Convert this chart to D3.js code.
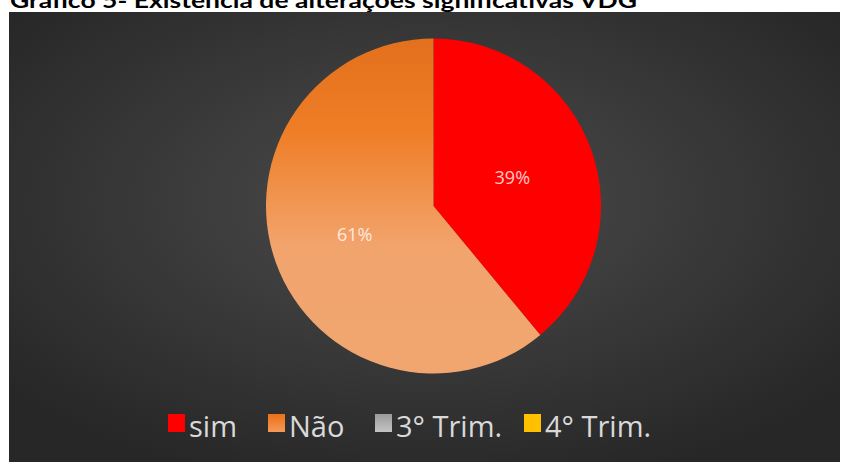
<!DOCTYPE html>
<html><head><meta charset="utf-8">
<script src="https://cdn.jsdelivr.net/npm/d3@7"></script>
<style>html,body{margin:0;padding:0;background:#fff;}svg{display:block;}</style>
</head><body>
<svg id="chart" width="846" height="462"></svg>
<script>
const title = "Gráfico 5- Existência de alterações significativas VDG";
const categories = ["sim", "Não", "3° Trim.", "4° Trim."];
const values = [39, 61, 0, 0];
const labels = ["39%", "61%", "", ""];

const svg = d3.select("#chart");
const W = 846, H = 462;
const defs = svg.append("defs");

const bg = defs.append("radialGradient").attr("id","bg")
  .attr("cx","50%").attr("cy","42%").attr("r","65%");
bg.append("stop").attr("offset","0%").attr("stop-color","#4c4c4c");
bg.append("stop").attr("offset","100%").attr("stop-color","#272727");

const cx = 433.5, cy = 206, R = 167.5;
const og = defs.append("linearGradient").attr("id","orange")
  .attr("gradientUnits","userSpaceOnUse")
  .attr("x1", 0).attr("y1", -R).attr("x2", 0).attr("y2", R);
og.append("stop").attr("offset","0%").attr("stop-color","#E3701C");
og.append("stop").attr("offset","28%").attr("stop-color","#EF7E27");
og.append("stop").attr("offset","62%").attr("stop-color","#F2A46D");
og.append("stop").attr("offset","100%").attr("stop-color","#F1A670");

const lg = defs.append("linearGradient").attr("id","legOrange").attr("x1",0).attr("y1",0).attr("x2",0).attr("y2",1);
lg.append("stop").attr("offset","0%").attr("stop-color","#EE6F16");
lg.append("stop").attr("offset","100%").attr("stop-color","#F49A5A");
const gg = defs.append("linearGradient").attr("id","legGray").attr("x1",0).attr("y1",0).attr("x2",0).attr("y2",1);
gg.append("stop").attr("offset","0%").attr("stop-color","#9A9A9A");
gg.append("stop").attr("offset","100%").attr("stop-color","#C4C4C4");

// title (cut off at the top, as in the reference)
svg.append("text").attr("x", 10).attr("y", 8)
  .attr("font-family","Lato, 'Open Sans', sans-serif").attr("font-weight","bold")
  .attr("font-size", 20).attr("fill","#000")
  .attr("textLength", 627).attr("lengthAdjust","spacingAndGlyphs")
  .text(title);

// background
svg.append("rect").attr("x", 9).attr("y", 12).attr("width", 831).attr("height", H - 12)
  .attr("fill","url(#bg)");

const sliceFills = ["#FF0000", "url(#orange)", "url(#legGray)", "#FFC000"];
const data = categories.map((c,i)=>({cat:c, value:values[i], label:labels[i], fill:sliceFills[i]}));
const pie = d3.pie().value(d=>d.value).sort(null);
const arcs = pie(data);
const arc = d3.arc().innerRadius(0).outerRadius(R);
const g = svg.append("g").attr("transform", `translate(${cx},${cy})`);
g.selectAll("path").data(arcs.filter(a=>a.data.value>0)).join("path")
  .attr("d", arc).attr("fill", d=>d.data.fill);

const labelArc = d3.arc().innerRadius(R*0.5).outerRadius(R*0.5);
g.selectAll("text.lbl").data(arcs.filter(a=>a.data.value>0)).join("text")
  .attr("class","lbl")
  .attr("transform", d=>{ const c = labelArc.centroid(d); return `translate(${c[0]},${c[1]})`; })
  .attr("text-anchor","middle").attr("dy","0.35em")
  .attr("font-family","'Open Sans', sans-serif").attr("font-size", 18)
  .attr("fill","#fff").attr("fill-opacity", 0.8)
  .text(d=>d.data.label);

// legend
const legFills = ["#FF0000", "url(#legOrange)", "url(#legGray)", "#FFC000"];
const legX = [168, 268, 375, 524];
const leg = svg.append("g");
categories.forEach((c,i)=>{
  leg.append("rect").attr("x", legX[i]).attr("y", 414).attr("width", 17).attr("height", 18)
    .attr("fill", legFills[i]);
  leg.append("text").attr("x", legX[i] + 21).attr("y", 437)
    .attr("font-family","'Open Sans', sans-serif").attr("font-size", 29)
    .attr("fill","#D9D9D9").text(c);
});
</script>
</body></html>
